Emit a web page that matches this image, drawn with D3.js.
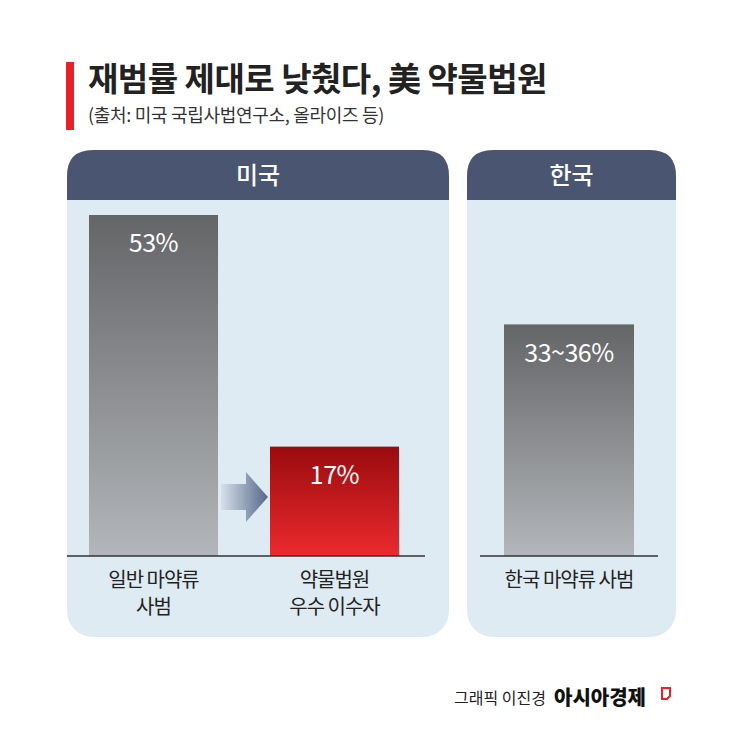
<!DOCTYPE html>
<html><head><meta charset="utf-8">
<script src="https://cdn.jsdelivr.net/npm/d3@7"></script>
<style>body{margin:0;background:#fff}svg{display:block}text{font-family:"Noto Sans CJK KR","Noto Sans",sans-serif}</style>
</head><body>
<script>
const categories = ["일반 마약류|사범", "약물법원|우수 이수자"];
const values = [53, 17];
const valueLabels = ["53%", "17%"];
const krCategory = ["한국 마약류 사범"];
const krValues = [36];
const krLabels = ["33~36%"];
const panels = ["미국", "한국"];

const W = 745, H = 750;
const svg = d3.select("body").append("svg").attr("width", W).attr("height", H);
const defs = svg.append("defs");
function grad(id, c1, c2) {
  const g = defs.append("linearGradient").attr("id", id).attr("x1", 0).attr("x2", 0).attr("y1", 0).attr("y2", 1);
  g.append("stop").attr("offset", "0%").attr("stop-color", c1);
  g.append("stop").attr("offset", "100%").attr("stop-color", c2);
}
grad("gGray", "#646567", "#b3b6ba");
grad("gRed", "#9a0b0e", "#ec2a2e");
const ag = defs.append("linearGradient").attr("id", "gArrow");
ag.append("stop").attr("offset", "0%").attr("stop-color", "#d6e0ea");
ag.append("stop").attr("offset", "100%").attr("stop-color", "#56688a");

svg.append("rect").attr("x", 66).attr("y", 62).attr("width", 8).attr("height", 68).attr("fill", "#e8202a");
svg.append("text").attr("x", 88).attr("y", 91).attr("font-size", 33).attr("font-weight", 700).attr("fill", "#222").attr("letter-spacing", -0.5).text("재범률 제대로 낮췄다, 美 약물법원");
svg.append("text").attr("x", 88).attr("y", 122).attr("font-size", 18).attr("fill", "#333").attr("letter-spacing", -0.3).text("(출처: 미국 국립사법연구소, 올라이즈 등)");

function panel(x, w, title) {
  const y = 150, h = 487, r = 26;
  svg.append("rect").attr("x", x).attr("y", y).attr("width", w).attr("height", h).attr("rx", r).attr("fill", "#dfebf2");
  const p = `M${x},${y + 50} V${y + r} Q${x},${y} ${x + r},${y} H${x + w - r} Q${x + w},${y} ${x + w},${y + r} V${y + 50} Z`;
  svg.append("path").attr("d", p).attr("fill", "#4a5571");
  svg.append("text").attr("x", x + w / 2).attr("y", y + 34).attr("text-anchor", "middle").attr("font-size", 24).attr("font-weight", 500).attr("fill", "#fff").text(title);
}
panel(67, 382, panels[0]);
panel(467, 209, panels[1]);

const base = 556;
const y = d3.scaleLinear().domain([0, 53]).range([base, 215]);

const xUS = d3.scaleBand().domain(categories).range([89, 399]).paddingInner(0.287).paddingOuter(0);
const fills = ["url(#gGray)", "url(#gRed)"];
categories.forEach((c, i) => {
  const bx = xUS(c), bw = xUS.bandwidth();
  svg.append("rect").attr("x", bx).attr("y", y(values[i])).attr("width", bw).attr("height", base - y(values[i])).attr("fill", fills[i]);
  svg.append("text").attr("x", bx + bw / 2).attr("y", y(values[i]) + 37).attr("text-anchor", "middle").attr("font-size", 25).attr("letter-spacing", -0.5).attr("fill", "#fff").text(valueLabels[i]);
  c.split("|").forEach((t, j) => svg.append("text").attr("x", bx + bw / 2).attr("y", base + 31 + j * 27).attr("text-anchor", "middle").attr("font-size", 20).attr("letter-spacing", -1).attr("fill", "#222").text(t));
});
svg.append("line").attr("x1", 67).attr("x2", 425).attr("y1", base).attr("y2", base).attr("stroke", "#333").attr("stroke-width", 1.5);

const ax0 = xUS(categories[0]) + xUS.bandwidth() + 3, ax1 = xUS(categories[1]) - 2;
svg.append("path").attr("d", `M${ax0},${484} H${ax1 - 22} V${472} L${ax1},${497} L${ax1 - 22},${522} V${510} H${ax0} Z`).attr("fill", "url(#gArrow)");

const xKR = d3.scaleBand().domain(krCategory).range([504, 634]);
krCategory.forEach((c, i) => {
  const bx = xKR(c), bw = xKR.bandwidth();
  svg.append("rect").attr("x", bx).attr("y", y(krValues[i])).attr("width", bw).attr("height", base - y(krValues[i])).attr("fill", "url(#gGray)");
  svg.append("text").attr("x", bx + bw / 2).attr("y", y(krValues[i]) + 38).attr("text-anchor", "middle").attr("font-size", 25).attr("letter-spacing", -0.5).attr("fill", "#fff").text(krLabels[i]);
  svg.append("text").attr("x", bx + bw / 2).attr("y", base + 31).attr("text-anchor", "middle").attr("font-size", 20).attr("letter-spacing", -1).attr("fill", "#222").text(c);
});
svg.append("line").attr("x1", 480).attr("x2", 658).attr("y1", base).attr("y2", base).attr("stroke", "#333").attr("stroke-width", 1.5);

svg.append("text").attr("x", 546).attr("y", 704).attr("text-anchor", "end").attr("font-size", 16).attr("fill", "#222").text("그래픽 이진경");
svg.append("text").attr("x", 554).attr("y", 705).attr("font-size", 20).attr("font-weight", 900).attr("fill", "#111").text("아시아경제");
svg.append("path").attr("d", "M662,688 h8 v8 l-3,3 h-5 Z").attr("fill", "none").attr("stroke", "#e8202a").attr("stroke-width", 2);
</script>
</body></html>
